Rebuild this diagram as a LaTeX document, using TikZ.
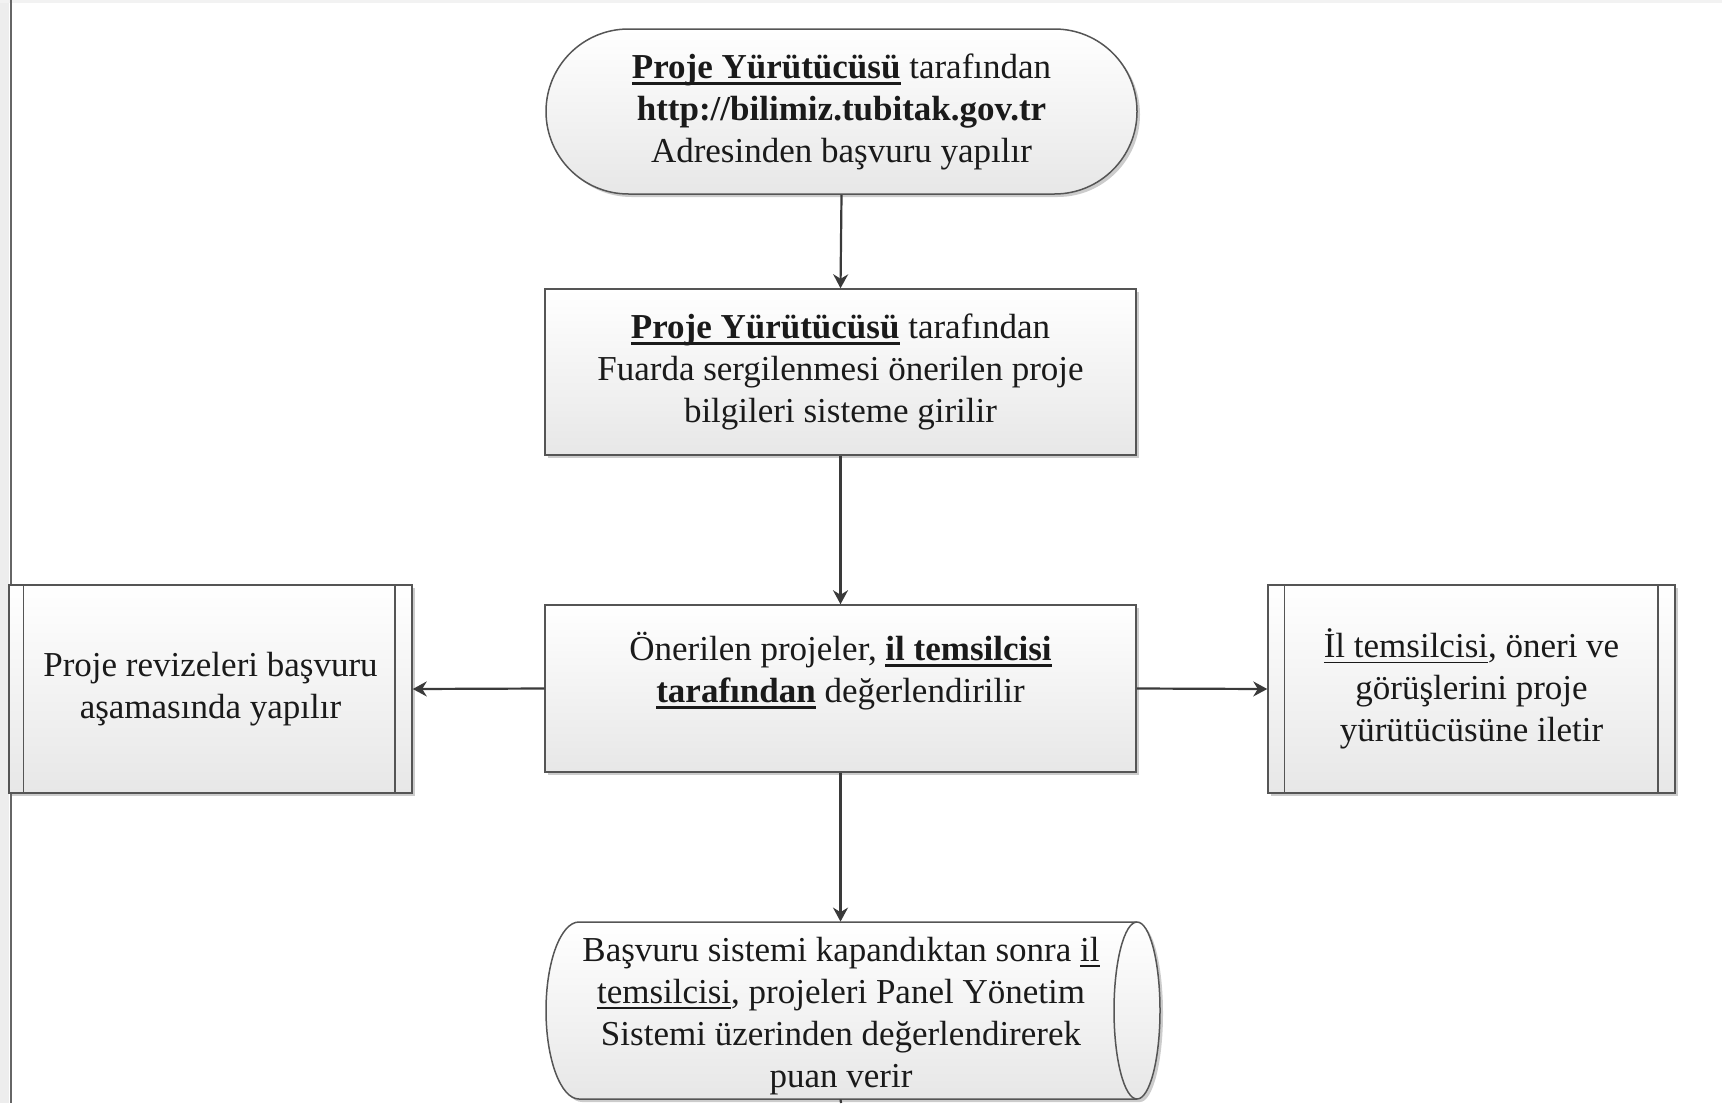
\documentclass[tikz,border=0pt]{standalone}
\usepackage{fontspec}
\setmainfont{Liberation Serif}
\usetikzlibrary{arrows.meta,shadows,shapes.misc}
\definecolor{edgec}{HTML}{555555}
\definecolor{arrc}{HTML}{3A3A3A}
\definecolor{txtc}{HTML}{1A1A1A}
\definecolor{botc}{HTML}{E7E7E7}
\definecolor{framec}{HTML}{666666}
\newsavebox\ulbox
\newcommand\bu[1]{\begingroup\sbox\ulbox{\textbf{#1}}\rlap{\rule[-3.4pt]{\wd\ulbox}{1.5pt}}\usebox\ulbox\endgroup}
\newcommand\myul[1]{\begingroup\sbox\ulbox{#1}\rlap{\rule[-2.6pt]{\wd\ulbox}{0.6pt}}\usebox\ulbox\endgroup}
\tikzset{
  fillstyle/.style={draw=edgec, line width=0.75pt, top color=white, bottom color=botc,
    drop shadow={shadow xshift=1.5pt, shadow yshift=-1.5pt, opacity=0.2, fill=black}},
  txtstyle/.style={align=center, text=txtc, inner sep=0pt, font=\fontsize{17.5}{21}\selectfont},
  procbox/.style={fillstyle, txtstyle, rectangle},
  termbox/.style={fillstyle, txtstyle, rounded rectangle},
  flow/.style={draw=arrc, line width=1.1pt, -{Stealth[length=7pt,width=7.5pt]}},
  plain/.style={draw=arrc, line width=1.1pt},
}
\begin{document}
\begin{tikzpicture}[x=0.5pt,y=-0.5pt]
\useasboundingbox (0,0) rectangle (1722,1103);
% page edge strips and frame line
\fill[black!7] (0,0) rectangle (9,1103);
\fill[black!5] (0,0) rectangle (1722,2.5);
\draw[framec, line width=1pt] (10.5,0) -- (10.5,1103);

% terminator
\node[termbox, minimum width=295.5pt, minimum height=82.5pt] (start) at (841.5,111.5)
  {\bu{Proje Yürütücüsü} tarafından\\ \textbf{http://bilimiz.tubitak.gov.tr}\\ Adresinden başvuru yapılır};

% process boxes
\node[procbox, minimum width=295.5pt, minimum height=83pt] (enter) at (840.5,372)
  {\bu{Proje Yürütücüsü} tarafından\\ Fuarda sergilenmesi önerilen proje\\ bilgileri sisteme girilir};
\node[procbox, minimum width=295.5pt, minimum height=83.5pt] (eval) at (840.5,688.5)
  {Önerilen projeler, \bu{il temsilcisi}\\ \bu{tarafından} değerlendirilir\\ \mbox{}};

% predefined process boxes
\node[procbox, minimum width=201.5pt, minimum height=104pt] (revise) at (210.5,689)
  {Proje revizeleri başvuru\\ aşamasında yapılır};
\draw[edgec, line width=0.75pt] ([xshift=7.5pt]revise.north west) -- ([xshift=7.5pt]revise.south west);
\draw[edgec, line width=0.75pt] ([xshift=-9pt]revise.north east) -- ([xshift=-9pt]revise.south east);

\node[procbox, minimum width=203.5pt, minimum height=104pt] (notify) at (1471.5,689)
  {\myul{İl temsilcisi}, öneri ve\\ görüşlerini proje\\ yürütücüsüne iletir};
\draw[edgec, line width=0.75pt] ([xshift=8.5pt]notify.north west) -- ([xshift=8.5pt]notify.south west);
\draw[edgec, line width=0.75pt] ([xshift=-9pt]notify.north east) -- ([xshift=-9pt]notify.south east);

% direct access storage shape
\path[fillstyle] (579,922) -- (1137,922)
  arc[start angle=90, end angle=-90, x radius=11.5pt, y radius=44.25pt]
  -- (579,1099)
  arc[start angle=270, end angle=90, x radius=16.5pt, y radius=44.25pt] -- cycle;
\draw[edgec, line width=0.75pt] (1137,922)
  arc[start angle=90, end angle=270, x radius=11.5pt, y radius=44.25pt];
\node[inner sep=0pt, minimum width=279pt, minimum height=88.5pt] (panel) at (858,1010.5) {};
\node[txtstyle] (paneltext) at (841,1016)
  {Başvuru sistemi kapandıktan sonra \myul{il}\\ \myul{temsilcisi}, projeleri Panel Yönetim\\ Sistemi üzerinden değerlendirerek\\ puan verir};
\coordinate (out) at (841,1103);

% connectors
\draw[flow] (start.south) -- (enter.north);
\draw[flow] (enter.south) -- (eval.north);
\draw[flow] (eval.west) -- (revise.east);
\draw[flow] (eval.east) -- (notify.west);
\draw[flow] (eval.south) -- (eval.south |- panel.north);
\draw[plain] (eval.south |- panel.south) -- (out);
\end{tikzpicture}
\end{document}
